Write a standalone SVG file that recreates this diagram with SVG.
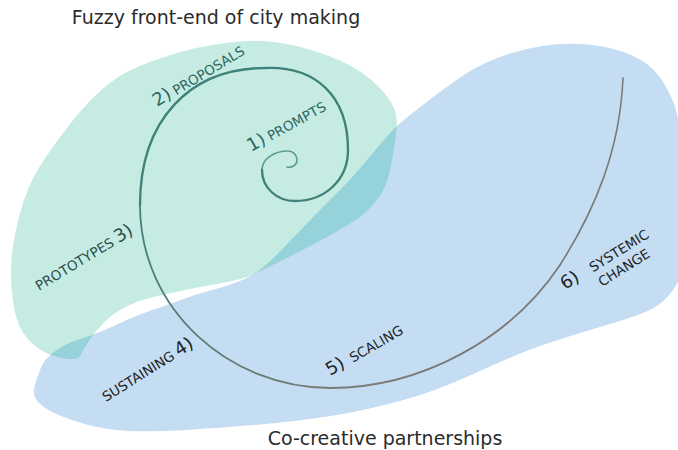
<svg xmlns="http://www.w3.org/2000/svg" xmlns:xlink="http://www.w3.org/1999/xlink" width="678" height="450" viewBox="0 0 678 450">
<style>
  text { font-family: "DejaVu Sans", Verdana, sans-serif; }
  .title { font-size: 19px; fill: #2b2b2b; text-anchor: middle; }
  .big { font-size: 18px; }
  .small { font-size: 13.5px; }
  .teal { fill: #2c655f; }
  .dark { fill: #1e2222; }
</style>
<defs>
  <path id="blueShape" d="M34.5,386.5 Q37,377 41,367.5 Q45,358 56,350.5 Q67,343 78.5,339.5 Q90,336 101,331.5 Q112,327 123.5,321.5 Q135,316 151,310.5 Q167,305 183.5,299 Q200,293 214,289.5 Q228,286 240,281 Q252,276 261,269 Q270,262 280,251.5 Q290,241 305,225.5 Q320,210 336.5,193.5 Q353,177 365,162.5 Q377,148 386,137.5 Q395,127 407.5,117 Q420,107 432.5,97.5 Q445,88 460,77.5 Q475,67 496,58.5 Q517,50 542,46 Q567,42 592,45 Q617,48 633.5,56 Q650,64 659,76 Q668,88 674,104 Q680,120 685,160 Q690,200 686.5,237.5 Q683,275 675.5,286.5 Q668,298 659,304.5 Q650,311 633.5,316.5 Q617,322 600,327 Q583,332 558,340 Q533,348 516.5,355 Q500,362 466.5,377 Q433,392 400,401 Q367,410 333.5,415.5 Q300,421 260,424.5 Q220,428 186.5,430 Q153,432 130,431 Q107,430 88.5,425 Q70,420 57.5,414.5 Q45,409 38.5,402.5 Q32,396 34.5,386.5 Z"/>
  <path id="greenShape" d="M120,76 Q130,70 143.5,64.5 Q157,59 177,53 Q197,47 222,43.5 Q247,40 263.5,41 Q280,42 296.5,46 Q313,50 330,56.5 Q347,63 360,71.5 Q373,80 383,91.5 Q393,103 395.5,112.5 Q398,122 396,136 Q394,150 390.5,168.5 Q387,187 377,200 Q367,213 353.5,221.5 Q340,230 321.5,240 Q303,250 283,260 Q263,270 251.5,275 Q240,280 225,282.5 Q210,285 192.5,288.5 Q175,292 157.5,296 Q140,300 127.5,306 Q115,312 105.5,321 Q96,330 89.5,340 Q83,350 80.5,355.5 Q78,361 64,358.5 Q50,356 40,349.5 Q30,343 23,332.5 Q16,322 13,301 Q10,280 11.5,260 Q13,240 20,213.5 Q27,187 38.5,168.5 Q50,150 66.5,128.5 Q83,107 96.5,94.5 Q110,82 120,76 Z"/>
  <clipPath id="blueClip"><use xlink:href="#blueShape" href="#blueShape"/></clipPath>
  <linearGradient id="tailGrad" gradientUnits="userSpaceOnUse" x1="140" y1="215" x2="330" y2="390">
    <stop offset="0" stop-color="#43807a"/>
    <stop offset="1" stop-color="#7a7a7a"/>
  </linearGradient>
</defs>

<g id="zone-cocreative">
  <use xlink:href="#blueShape" href="#blueShape" fill="#c5ddf2"/>
</g>
<g id="zone-fuzzy">
  <use xlink:href="#greenShape" href="#greenShape" fill="#c5ebe2"/>
  <use xlink:href="#greenShape" href="#greenShape" fill="#95d2d9" clip-path="url(#blueClip)"/>
</g>

<g id="connectors" fill="none" stroke-linecap="round">
  <path d="M287,167 C292,168 297,165 297,160 C297,155 293,151 288,151 C274,151 262,159 262,170" stroke="#5c9b93" stroke-width="1.6"/>
  <path d="M262,170 C262,188 277,201 295,201 C325,201 348,180 348,150 C348,95 315,66 265,68 C190,68 140,120 140,205" stroke="#3e8179" stroke-width="2.3"/>
  <path d="M140,205 C140,310 230,388 330,388 C420,388 510,340 560,265" stroke="url(#tailGrad)" stroke-width="1.8"/>
  <path d="M560,265 C595,210 620,150 623,78" stroke="#7a7a7a" stroke-width="1.6"/>
</g>

<g id="title-fuzzy"><text class="title" x="216" y="24">Fuzzy front-end of city making</text></g>
<g id="title-cocreative"><text class="title" x="385" y="445">Co-creative partnerships</text></g>

<g id="step1"><text class="teal" transform="translate(251,152) rotate(-29)"><tspan class="big">1)</tspan><tspan class="small" dx="4">PROMPTS</tspan></text></g>
<g id="step2"><text class="teal" transform="translate(157,107) rotate(-31)"><tspan class="big">2)</tspan><tspan class="small" dx="4">PROPOSALS</tspan></text></g>
<g id="step3"><text fill="#2b4e4b" transform="translate(39,291) rotate(-31)"><tspan class="small">PROTOTYPES</tspan><tspan class="big" dx="4">3)</tspan></text></g>
<g id="step4"><text class="dark" transform="translate(106,402) rotate(-32)"><tspan class="small">SUSTAINING</tspan><tspan class="big" dx="4">4)</tspan></text></g>
<g id="step5"><text class="dark" transform="translate(330,376) rotate(-30)"><tspan class="big">5)</tspan><tspan class="small" dx="8">SCALING</tspan></text></g>
<g id="step6"><text class="dark" transform="translate(565,290) rotate(-32)"><tspan class="big" x="0" y="0">6)</tspan><tspan class="small" x="33" y="0">SYSTEMIC</tspan><tspan class="small" x="33" y="17">CHANGE</tspan></text></g>
</svg>
